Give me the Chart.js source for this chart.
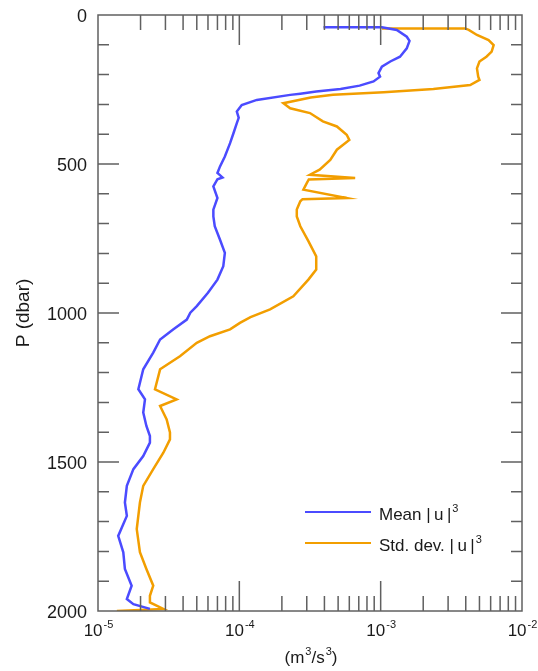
<!DOCTYPE html>
<html><head><meta charset="utf-8">
<script src="https://cdn.jsdelivr.net/npm/chart.js@4.4.1/dist/chart.umd.min.js"></script>
<style>html,body{margin:0;padding:0;background:#fff;} #wrap{width:538px;height:671px;position:relative;}</style>
</head><body><div id="wrap"><canvas id="c" width="538" height="671"></canvas></div>
<script>
// ---- data ----
const meanPressure = [41,41,50,73,87,112,140,156,173,195,207,223,237,248,257,264,268,285,302,324,345,363,396,430,475,508,530,545,551,575,614,653,676,709,754,798,843,888,932,977,999,1022,1055,1089,1133,1189,1256,1290,1334,1379,1413,1435,1480,1524,1580,1636,1681,1748,1803,1859,1915,1960,1977,1993];
const meanU3 = [3.94e-4,1.02e-3,1.30e-3,1.53e-3,1.60e-3,1.53e-3,1.37e-3,1.17e-3,1.02e-3,9.65e-4,9.9e-4,8.9e-4,7.1e-4,5.2e-4,3.5e-4,2.7e-4,2.29e-4,1.33e-4,1.04e-4,9.6e-5,9.9e-5,9.6e-5,9.1e-5,8.6e-5,7.9e-5,7.3e-5,7.0e-5,7.6e-5,7.0e-5,6.55e-5,7.0e-5,6.55e-5,6.55e-5,6.7e-5,7.3e-5,7.9e-5,7.7e-5,7.0e-5,6.0e-5,5.0e-5,4.5e-5,4.25e-5,3.4e-5,2.75e-5,2.46e-5,2.09e-5,1.93e-5,2.15e-5,2.09e-5,2.2e-5,2.33e-5,2.33e-5,2.09e-5,1.78e-5,1.6e-5,1.55e-5,1.6e-5,1.39e-5,1.51e-5,1.55e-5,1.73e-5,1.6e-5,1.78e-5,2.33e-5];
const stdPressure = [45,45,50,67,84,101,123,140,156,179,207,218,235,248,259,268,277,296,313,329,357,374,402,419,452,486,519,536,547,552,564,586,614,618,625,653,676,709,759,810,854,888,944,988,1014,1033,1055,1078,1100,1145,1189,1256,1290,1312,1357,1401,1424,1469,1524,1580,1636,1725,1803,1859,1915,1949,1971,1993,2000];
const stdU3 = [1.02e-3,3.95e-3,4.2e-3,4.8e-3,5.8e-3,6.3e-3,6.1e-3,5.6e-3,5.0e-3,4.8e-3,4.9e-3,5.0e-3,4.3e-3,2.36e-3,1.05e-3,4.6e-4,3.2e-4,2.05e-4,2.29e-4,3.16e-4,3.9e-4,4.9e-4,5.75e-4,6.0e-4,4.9e-4,4.4e-4,3.7e-4,3.16e-4,6.6e-4,3.1e-4,3.0e-4,2.84e-4,5.75e-4,2.8e-4,2.7e-4,2.55e-4,2.55e-4,2.7e-4,3.08e-4,3.5e-4,3.5e-4,3.08e-4,2.41e-4,1.65e-4,1.2e-4,1.01e-4,8.6e-5,6.2e-5,5.0e-5,3.8e-5,2.75e-5,2.53e-5,3.6e-5,2.75e-5,3.06e-5,3.23e-5,3.23e-5,2.9e-5,2.46e-5,2.09e-5,1.98e-5,1.88e-5,1.98e-5,2.2e-5,2.46e-5,2.33e-5,2.33e-5,2.9e-5,1.36e-5];
const seriesLabels = ['Mean |\u2009u\u2009|^3', 'Std. dev. |\u2009u\u2009|^3'];
const yTickValues = [0, 500, 1000, 1500, 2000];
const yTickLabels = ['0', '500', '1000', '1500', '2000'];
const xDecadeExps = [-5, -4, -3, -2];
const xTickLabels = ['10^-5', '10^-4', '10^-3', '10^-2'];
const xTitle = '(m^3/s^3)';
const yTitle = 'P (dbar)';

// ---- styling ----
const FONT = '"Liberation Sans", Arial, Helvetica, sans-serif';
const TEXT = '#1a1a1a';
const AXIS = '#606060';
const COLORS = ['#4b4bff', '#f29e00'];

function parseSup(s){
  const out=[]; const re=/\^(-?\d+)/g; let last=0, m;
  while((m=re.exec(s))){ if(m.index>last) out.push({t:s.slice(last,m.index),sup:false}); out.push({t:m[1],sup:true}); last=re.lastIndex; }
  if(last<s.length) out.push({t:s.slice(last),sup:false});
  return out;
}
function drawRich(ctx, s, x, y, size, align){
  const parts=parseSup(s); const supSize=Math.round(size*0.62);
  let w=0;
  parts.forEach(p=>{ctx.font=(p.sup?supSize:size)+'px '+FONT; p.w=ctx.measureText(p.t).width; w+=p.w;});
  let cx = align==='center'? x-w/2 : (align==='right'? x-w : x);
  ctx.textAlign='left';
  parts.forEach(p=>{ctx.font=(p.sup?supSize:size)+'px '+FONT; ctx.fillText(p.t,cx+(p.sup?1:0),p.sup? y-size*0.45 : y); cx+=p.w+(p.sup?1:0);});
}

const framePlugin = {
  id:'frame',
  afterDraw(chart){
    const ctx=chart.ctx, a=chart.chartArea, xs=chart.scales.x, ys=chart.scales.y;
    ctx.save();
    ctx.strokeStyle=AXIS; ctx.lineWidth=1.5;
    ctx.beginPath();
    for(let p=0;p<=2000;p+=100){
      const y=ys.getPixelForValue(p); const len=(p%500===0)?21:11;
      if(p===0||p===2000) continue;
      ctx.moveTo(a.left,y); ctx.lineTo(a.left+len,y);
      ctx.moveTo(a.right,y); ctx.lineTo(a.right-len,y);
    }
    for(let d=-5; d<=-3; d++){
      for(let m=1;m<=9;m++){
        if(d===-5&&m===1) continue;
        const x=xs.getPixelForValue(m*Math.pow(10,d)); const len=(m===1)?30:15;
        ctx.moveTo(x,a.top); ctx.lineTo(x,a.top+len);
        ctx.moveTo(x,a.bottom); ctx.lineTo(x,a.bottom-len);
      }
    }
    ctx.stroke();
    ctx.strokeRect(a.left,a.top,a.right-a.left,a.bottom-a.top);
    ctx.fillStyle=TEXT; ctx.textBaseline='alphabetic';
    yTickValues.forEach((v,i)=>{
      const y=ys.getPixelForValue(v);
      ctx.font='18px '+FONT; ctx.textAlign='right';
      ctx.fillText(yTickLabels[i], a.left-11, y+6.5);
    });
    xDecadeExps.forEach((e,i)=>{
      const x=xs.getPixelForValue(Math.pow(10,e));
      drawRich(ctx, xTickLabels[i], x, a.bottom+25, 17, 'center');
    });
    drawRich(ctx, xTitle, (a.left+a.right)/2, a.bottom+52, 17, 'center');
    ctx.save();
    ctx.translate(29, (a.top+a.bottom)/2);
    ctx.rotate(-Math.PI/2);
    ctx.font='19px '+FONT; ctx.textAlign='center'; ctx.textBaseline='alphabetic';
    ctx.fillText(yTitle, 0, 0);
    ctx.restore();
    chart.data.datasets.forEach((ds,i)=>{
      const ly=512+i*31;
      ctx.strokeStyle=ds.borderColor; ctx.lineWidth=2;
      ctx.beginPath(); ctx.moveTo(305,ly); ctx.lineTo(371,ly); ctx.stroke();
      ctx.fillStyle=TEXT;
      drawRich(ctx, ds.label, 379, ly+8, 17, 'left');
    });
    ctx.restore();
  }
};

new Chart(document.getElementById('c'), {
  type:'scatter',
  data:{
    datasets:[
      {label:seriesLabels[0], data:meanU3.map((v,i)=>({x:v,y:meanPressure[i]})), borderColor:COLORS[0], backgroundColor:COLORS[0], showLine:true, pointRadius:0, borderWidth:2.5, tension:0},
      {label:seriesLabels[1], data:stdU3.map((v,i)=>({x:v,y:stdPressure[i]})), borderColor:COLORS[1], backgroundColor:COLORS[1], showLine:true, pointRadius:0, borderWidth:2.5, tension:0}
    ]
  },
  options:{
    responsive:false, animation:false,
    layout:{padding:{left:98, right:16, top:15, bottom:60}},
    scales:{
      x:{type:'logarithmic', min:1e-5, max:1e-2, display:false},
      y:{type:'linear', min:0, max:2000, reverse:true, display:false}
    },
    plugins:{legend:{display:false}, tooltip:{enabled:false}}
  },
  plugins:[framePlugin]
});
</script>
</body></html>
